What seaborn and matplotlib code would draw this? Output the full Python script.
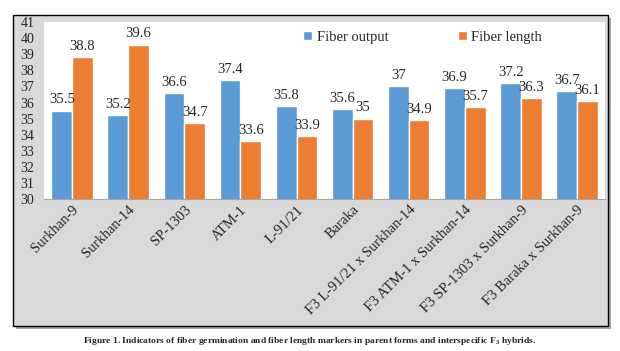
import matplotlib
matplotlib.use("Agg")
import matplotlib.pyplot as plt
from matplotlib.patches import Rectangle
import pandas as pd
import seaborn as sns

varieties = ["Surkhan-9", "Surkhan-14", "SP-1303", "ATM-1", "L-91/21", "Baraka",
             "F3 L-91/21 x Surkhan-14", "F3 ATM-1 x Surkhan-14",
             "F3 SP-1303 x Surkhan-9", "F3 Baraka x Surkhan-9"]
fiber_output = [35.5, 35.2, 36.6, 37.4, 35.8, 35.6, 37, 36.9, 37.2, 36.7]
fiber_length = [38.8, 39.6, 34.7, 33.6, 33.9, 35, 34.9, 35.7, 36.3, 36.1]
metrics = ["Fiber output", "Fiber length"]
colors = ["#5b9bd5", "#ed7d31"]

rows = []
for i, v in enumerate(varieties):
    rows.append([v, fiber_output[i], metrics[0]])
    rows.append([v, fiber_length[i], metrics[1]])
df = pd.DataFrame(rows, columns=["Variety", "Value", "Metric"])

sns.set_style("white")
plt.rcParams["font.family"] = ["Liberation Serif", "DejaVu Serif"]

fig = plt.figure(figsize=(6.2, 3.51), dpi=100)
# gray chart frame with shadow
fig.patches.append(Rectangle((0.025, 0.062), 0.96, 0.886, transform=fig.transFigure,
                             facecolor="#a6a6a6", edgecolor="none", zorder=-10))
fig.patches.append(Rectangle((0.021, 0.071), 0.96, 0.886, transform=fig.transFigure,
                             facecolor="#d9d9d9", edgecolor="black", linewidth=1.0, zorder=-9))

ax = fig.add_axes([0.071, 0.433, 0.905, 0.504])
ax.set_facecolor("white")
sns.barplot(data=df, x="Variety", y="Value", hue="Metric", palette=colors,
            saturation=1, width=0.74, ax=ax)

ax.set_ylim(30, 41)
ax.set_yticks(range(30, 42))
ax.tick_params(axis="y", length=0, pad=7, labelsize=10)
ax.tick_params(axis="x", length=0, pad=3, labelsize=10.5)
plt.setp(ax.get_xticklabels(), rotation=45, ha="right", rotation_mode="anchor")
ax.set_xlabel("")
ax.set_ylabel("")
for s in ["top", "right", "left"]:
    ax.spines[s].set_visible(False)
ax.spines["bottom"].set_color("#a6a6a6")

for c in ax.containers:
    ax.bar_label(c, fmt="%g", padding=3, fontsize=10.5)

ax.legend(loc="upper center", bbox_to_anchor=(0.675, 1.025), ncol=2, frameon=False,
          fontsize=10.5, handlelength=0.6, handleheight=0.6, handletextpad=0.3,
          columnspacing=4.8)

fig.text(0.5, 0.028, "Figure 1. Indicators of fiber germination and fiber length markers "
         "in parent forms and interspecific F$_\\mathregular{3}$ hybrids.",
         ha="center", va="center", fontsize=6.8, fontweight="bold")

fig.savefig("out.png", dpi=100)
